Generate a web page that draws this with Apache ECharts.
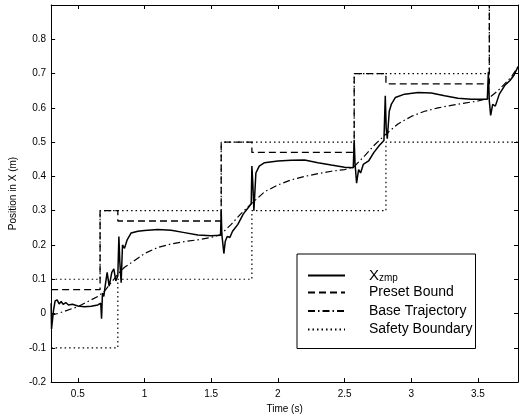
<!DOCTYPE html>
<html>
<head>
<meta charset="utf-8">
<script src="https://cdn.jsdelivr.net/npm/echarts@6/dist/echarts.min.js"></script>
<style>
html,body{margin:0;padding:0;background:#fff;}
#chart{width:524px;height:419px;}
</style>
</head>
<body>
<div id="chart"></div>
<script>
// values
var zmpTime = [0.300,0.303,0.308,0.318,0.330,0.345,0.360,0.375,0.390,0.410,0.430,0.460,0.500,0.550,0.600,0.650,
	0.672,0.678,0.685,0.695,0.705,0.720,0.735,0.755,0.770,0.785,0.800,0.808,0.815,0.825,0.835,0.850,0.870,0.900,0.950,
	1.000,1.100,1.200,1.300,1.400,1.500,1.570,1.575,1.580,1.595,1.605,1.620,1.640,1.660,1.700,1.740,1.780,1.800,
	1.805,1.812,1.820,1.835,1.860,1.900,2.000,2.100,2.200,2.300,2.400,2.500,2.565,2.572,2.578,2.590,2.605,2.620,
	2.640,2.680,2.720,2.760,2.795,2.805,2.812,2.820,2.835,2.850,2.880,2.950,3.050,3.150,3.250,3.350,3.450,3.570,
	3.578,3.585,3.595,3.610,3.630,3.660,3.700,3.740,3.770,3.800];
var zmpPos = [0.030,-0.045,-0.050,0.010,0.037,0.040,0.028,0.035,0.027,0.032,0.025,0.027,0.022,0.020,0.021,0.025,
	0.030,-0.015,0.060,0.050,0.080,0.120,0.080,0.120,0.130,0.095,0.110,0.225,0.150,0.090,0.200,0.190,0.215,0.235,0.240,
	0.242,0.245,0.243,0.236,0.229,0.227,0.228,0.300,0.230,0.175,0.210,0.225,0.222,0.240,0.260,0.290,0.310,0.320,
	0.430,0.380,0.300,0.410,0.430,0.440,0.445,0.447,0.448,0.440,0.433,0.427,0.425,0.505,0.440,0.380,0.420,0.410,
	0.435,0.445,0.470,0.490,0.505,0.635,0.540,0.510,0.590,0.610,0.630,0.640,0.645,0.643,0.635,0.628,0.625,0.625,
	0.705,0.620,0.578,0.610,0.605,0.640,0.665,0.680,0.695,0.720];

var baseTime = [0.30,0.35,0.50,0.65,0.70,0.75,0.80,0.85,0.90,1.00,1.10,1.20,1.30,1.40,1.50,1.57,1.65,1.72,1.80,1.90,
	2.00,2.10,2.20,2.30,2.40,2.50,2.57,2.65,2.72,2.80,2.90,3.00,3.10,3.20,3.30,3.40,3.50,3.58,3.65,3.70,3.75,3.80];
var basePos = [-0.005,0.000,0.020,0.050,0.065,0.090,0.115,0.135,0.148,0.175,0.193,0.203,0.210,0.215,0.222,0.230,
	0.260,0.290,0.320,0.355,0.375,0.390,0.400,0.408,0.415,0.420,0.428,0.460,0.490,0.520,0.553,0.575,0.590,0.600,
	0.607,0.614,0.620,0.628,0.650,0.670,0.690,0.720];

var presetTime = [0.3,0.667,0.667,0.8,0.8,1.575,1.575,1.805,1.805,2.572,2.572,2.81,2.81,3.585,3.585];
var presetPos = [0.07,0.07,0.30,0.30,0.27,0.27,0.50,0.50,0.47,0.47,0.70,0.70,0.67,0.67,0.90];

var upperTime = [0.3,0.667,0.667,1.575,1.575,2.572,2.572,3.585,3.585];
var upperPos = [0.1,0.1,0.3,0.3,0.5,0.5,0.7,0.7,0.9];
var lowerTime = [0.3,0.8,0.8,1.805,1.805,2.81,2.81,3.8];
var lowerPos = [-0.1,-0.1,0.1,0.1,0.3,0.3,0.5,0.5];

var xTicks = [0.5,1,1.5,2,2.5,3,3.5];
var yTicks = [-0.2,-0.1,0,0.1,0.2,0.3,0.4,0.5,0.6,0.7,0.8];
var yTicksAll = [-0.2,-0.1,0,0.1,0.2,0.3,0.4,0.5,0.6,0.7,0.8,0.9];

function pairs(t, v){
	var out = [];
	for(var i=0;i<t.length;i++) out.push([t[i], v[i]]);
	return out;
}

var font = 'Liberation Sans, Arial, Helvetica, sans-serif';

function xAx(pos, showLabel){
	return {
		type:'value', position:pos, min:0.3, max:3.8,
		axisLine:{show:true, onZero:false, lineStyle:{color:'#000', width:1}},
		axisTick:{show:true, inside:true, length:4, customValues:xTicks, lineStyle:{color:'#000'}},
		axisLabel:{show:showLabel, customValues:xTicks, color:'#000', fontSize:10, fontFamily:font, margin:7},
		splitLine:{show:false},
		name: showLabel ? 'Time (s)' : '',
		nameLocation:'middle', nameGap:20,
		nameTextStyle:{color:'#000', fontSize:10, fontFamily:font}
	};
}
function yAx(pos, showLabel){
	return {
		type:'value', position:pos, min:-0.2, max:0.9,
		axisLine:{show:true, onZero:false, lineStyle:{color:'#000', width:1}},
		axisTick:{show:true, inside:true, length:4, customValues:yTicksAll, lineStyle:{color:'#000'}},
		axisLabel:{show:showLabel, customValues:yTicks, color:'#000', fontSize:10, fontFamily:font, margin:5},
		splitLine:{show:false},
		name: showLabel ? 'Position in X (m)' : '',
		nameLocation:'middle', nameGap:32,
		nameTextStyle:{color:'#000', fontSize:10, fontFamily:font}
	};
}

var chart = echarts.init(document.getElementById('chart'), null, {renderer:'canvas'});
var option = {
	animation:false,
	backgroundColor:'#fff',
	color:['#000'],
	grid:{left:51, right:6, top:5, bottom:32},
	xAxis:[xAx('bottom', true), xAx('top', false)],
	yAxis:[yAx('left', true), yAx('right', false)],
	legend:{
		orient:'vertical', left:297, top:254,
		padding:[12,3,10,10],
		itemWidth:37, itemHeight:12, itemGap:0.5,
		backgroundColor:'#fff', borderColor:'#000', borderWidth:1,
		itemStyle:{opacity:0},
		data:['Xzmp','Preset Bound','Base Trajectory','Safety Boundary'],
		formatter:function(name){
			if(name === 'Xzmp') return '{x|X}{s|zmp}';
			return name;
		},
		textStyle:{
			color:'#000', fontSize:14, fontFamily:font, lineHeight:18, padding:[0,0,0,19],
			rich:{
				x:{fontSize:15, fontFamily:font, color:'#000', lineHeight:15, verticalAlign:'top'},
				s:{fontSize:10, fontFamily:font, color:'#000', lineHeight:10, verticalAlign:'bottom', padding:[7,0,0,0]}
			}
		}
	},
	series:[
		{name:'Xzmp', type:'line', data:pairs(zmpTime, zmpPos), symbol:'none',
			itemStyle:{color:'#000'}, lineStyle:{color:'#000', width:1.5}, z:5},
		{name:'Preset Bound', type:'line', data:pairs(presetTime, presetPos), symbol:'none',
			itemStyle:{color:'#000'}, lineStyle:{color:'#000', width:1.3, type:[7,4]}},
		{name:'Base Trajectory', type:'line', data:pairs(baseTime, basePos), symbol:'none',
			itemStyle:{color:'#000'}, lineStyle:{color:'#000', width:1.2, type:[7,3,1.5,3]}},
		{name:'Safety Boundary', type:'line', data:pairs(upperTime, upperPos), symbol:'none',
			itemStyle:{color:'#000'}, lineStyle:{color:'#000', width:1.2, type:[1.5,3]}},
		{name:'Safety Boundary', type:'line', data:pairs(lowerTime, lowerPos), symbol:'none',
			itemStyle:{color:'#000'}, lineStyle:{color:'#000', width:1.2, type:[1.5,3]}}
	]
};
chart.setOption(option);
</script>
</body>
</html>
